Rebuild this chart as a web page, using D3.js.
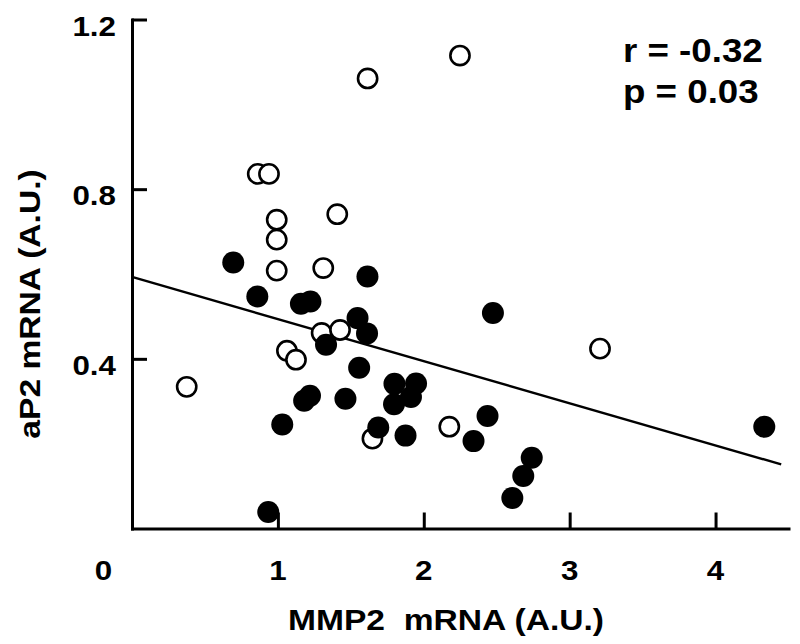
<!DOCTYPE html>
<html>
<head>
<meta charset="utf-8">
<script src="https://cdn.jsdelivr.net/npm/d3@7/dist/d3.min.js"></script>
<style>
  html, body { margin: 0; padding: 0; background: #fff; }
  svg { display: block; }
  text { font-family: Arial, "Liberation Sans", Helvetica, sans-serif; font-weight: bold; fill: #000; }
</style>
</head>
<body>
<script>
// ---- data ----
const openX = [1.615, 2.248, 0.862, 0.939, 0.992, 0.992, 0.992, 1.407, 1.311, 1.300, 1.426, 1.062, 1.124, 0.375, 1.648, 2.175, 3.208];
const openY = [1.061, 1.115, 0.836, 0.836, 0.728, 0.681, 0.608, 0.741, 0.614, 0.461, 0.468, 0.419, 0.398, 0.334, 0.212, 0.240, 0.424];
const filledX = [0.694, 0.859, 1.158, 1.223, 1.614, 1.546, 1.611, 1.330, 1.557, 1.463, 1.180, 1.220, 1.030, 0.934, 1.688, 1.799, 1.947, 1.796, 1.912, 1.875, 2.474, 2.437, 2.341, 2.740, 2.682, 2.607, 4.334];
const filledY = [0.627, 0.547, 0.530, 0.535, 0.594, 0.496, 0.460, 0.433, 0.379, 0.306, 0.301, 0.313, 0.245, 0.039, 0.238, 0.341, 0.342, 0.293, 0.310, 0.219, 0.508, 0.265, 0.206, 0.167, 0.124, 0.072, 0.240];
const fitIntercept = 0.593;
const fitSlope = -0.0993;
const fitRange = [0, 4.45];
const xTicks = [0, 1, 2, 3, 4];
const yTicks = [0.4, 0.8, 1.2];
const xTitle = "MMP2\u00a0\u00a0mRNA (A.U.)";
const yTitle = "aP2 mRNA (A.U.)";
const statLines = ["r = -0.32", "p = 0.03"];

// ---- layout ----
const W = 800, H = 644;
const svg = d3.select("body").append("svg").attr("width", W).attr("height", H);
svg.append("rect").attr("width", W).attr("height", H).attr("fill", "#fff");

const x = d3.scaleLinear().domain([0, 4.5]).range([132, 788.5]);
const y = d3.scaleLinear().domain([0, 1.2]).range([528.5, 19.5]);
const stretch = 1.12;

// axes (ticks inward)
const xAxis = d3.axisBottom(x).tickValues(xTicks.filter(d => d > 0)).tickSize(-16).tickSizeOuter(0).tickFormat("");
const yAxis = d3.axisLeft(y).tickValues(yTicks).tickSize(-15).tickSizeOuter(0).tickFormat("");
const gx = svg.append("g").attr("transform", `translate(0,${y(0)})`).call(xAxis);
const gy = svg.append("g").attr("transform", `translate(${x(0)},0)`).call(yAxis);
[gx, gy].forEach(g => {
  g.selectAll("path, line").attr("stroke", "#000").attr("stroke-width", 3);
  g.select(".domain").attr("stroke-linecap", "square");
});

// tick labels
svg.append("g").selectAll("text").data(xTicks).join("text")
  .attr("transform", d => `translate(${x(d) + (d === 0 ? -28.5 : 0)},${y(0) + 51}) scale(${stretch},1)`)
  .attr("text-anchor", "middle").attr("font-size", 28).text(d => d3.format("d")(d));
svg.append("g").selectAll("text").data(yTicks).join("text")
  .attr("transform", d => `translate(${x(0) - 16},${y(d) + 16}) scale(${stretch},1)`)
  .attr("text-anchor", "end").attr("font-size", 28).text(d => d3.format(".1f")(d));

// titles
svg.append("text").attr("transform", `translate(446,630) scale(${stretch},1)`)
  .attr("text-anchor", "middle").attr("font-size", 30).text(xTitle);
svg.append("text").attr("transform", `translate(40,304) rotate(-90) scale(${stretch},1)`)
  .attr("text-anchor", "middle").attr("font-size", 30).text(yTitle);

// fit line
svg.append("line")
  .attr("x1", x(fitRange[0])).attr("y1", y(fitIntercept + fitSlope * fitRange[0]))
  .attr("x2", x(fitRange[1])).attr("y2", y(fitIntercept + fitSlope * fitRange[1]))
  .attr("stroke", "#000").attr("stroke-width", 2.4);

// points
svg.append("g").selectAll("circle").data(openX.map((v, i) => [v, openY[i]])).join("circle")
  .attr("cx", d => x(d[0])).attr("cy", d => y(d[1])).attr("r", 9.6)
  .attr("fill", "#fff").attr("stroke", "#000").attr("stroke-width", 2.6);
svg.append("g").selectAll("circle").data(filledX.map((v, i) => [v, filledY[i]])).join("circle")
  .attr("cx", d => x(d[0])).attr("cy", d => y(d[1])).attr("r", 11)
  .attr("fill", "#000");

// stats
svg.append("g").selectAll("text").data(statLines).join("text")
  .attr("transform", (d, i) => `translate(623,${61.7 + i * 41.6}) scale(1.08,1)`)
  .attr("font-size", 34).text(d => d);
</script>
</body>
</html>
